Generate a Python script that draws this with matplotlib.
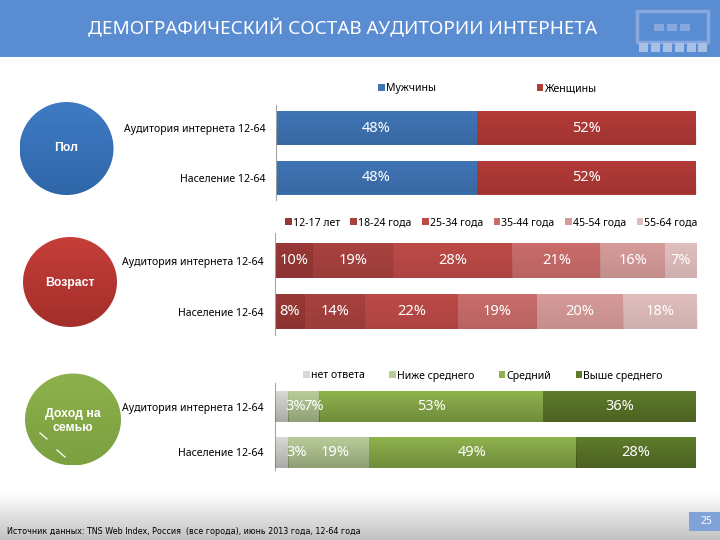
import numpy as np
import matplotlib
matplotlib.use("Agg")
import matplotlib.pyplot as plt
from matplotlib.patches import Rectangle, Ellipse, Patch

plt.rcParams['font.family'] = ['Noto Sans', 'DejaVu Sans']

# ---------- data ----------
title = "ДЕМОГРАФИЧЕСКИЙ СОСТАВ АУДИТОРИИ ИНТЕРНЕТА"
row_names = ["Аудитория интернета 12-64", "Население 12-64"]
source = "Источник данных: TNS Web Index, Россия  (все города), июнь 2013 года, 12-64 года"
page = "25"

gender_names = ["Мужчины", "Женщины"]
gender_audience = [47.8, 52.2]
gender_population = [47.8, 52.2]
gender_labels = [["48%", "52%"], ["48%", "52%"]]

age_names = ["12-17 лет", "18-24 года", "25-34 года", "35-44 года", "45-54 года", "55-64 года"]
age_audience = [9.0, 19.0, 28.2, 20.9, 15.4, 7.5]
age_population = [7.1, 14.2, 22.0, 18.7, 20.4, 17.6]
age_labels = [["10%", "19%", "28%", "21%", "16%", "7%"], ["8%", "14%", "22%", "19%", "20%", "18%"]]

income_names = ["нет ответа", "Ниже среднего", "Средний", "Выше среднего"]
income_audience = [3.1, 7.4, 53.2, 36.3]
income_population = [3.1, 19.2, 49.2, 28.5]
income_labels = [["3%", "7%", "53%", "36%"], ["3%", "19%", "49%", "28%"]]

gender_colors = ["#3F74B5", "#B23A37"]
age_colors = ["#983836", "#A8423F", "#BC4A47", "#C96C6A", "#D59B99", "#E0BEBD"]
income_colors = ["#D8D8D4", "#B8CC98", "#8FB24C", "#5F7C2A"]

fig = plt.figure(figsize=(7.2, 5.4), dpi=100, facecolor="white")
W, H = 720.0, 540.0

# ---------- background layer in pixel coordinates ----------
bg = fig.add_axes([0, 0, 1, 1], zorder=0)
bg.set_xlim(0, W); bg.set_ylim(H, 0); bg.axis("off")

bg.add_patch(Rectangle((0, 0), W, 57, fc="#5A8CD2", ec="none"))
foot = np.linspace(1, 0.76, 64)[:, None]
bg.imshow(foot, extent=(0, W, 540, 492), cmap="gray", vmin=0, vmax=1, aspect="auto", zorder=1)
bg.set_xlim(0, W); bg.set_ylim(H, 0)
bg.text(342.5, 29, title, color="white", fontsize=13.6, ha="center", va="center", zorder=5)

# header icon
ic = "#86A8DE"
bg.add_patch(Rectangle((637, 11), 71, 31, fc="none", ec=ic, lw=2.5, zorder=3))
for cx in (659, 672, 685):
    bg.add_patch(Rectangle((cx - 5, 24), 10, 7, fc=ic, ec="none", zorder=3))
for cx in (644, 656, 668, 680, 692, 703):
    bg.add_patch(Rectangle((cx - 5, 43), 9, 9, fc="#A9C0E6", ec="none", zorder=3))

# page number
bg.add_patch(Rectangle((689, 512), 31, 19, fc="#7FA3D8", ec="none", zorder=3))
bg.text(706, 522, page, color="white", fontsize=7.5, ha="center", va="center", zorder=5)
bg.text(7, 531, source, color="black", fontsize=5.8, ha="left", va="center", zorder=5,
        family=["DejaVu Sans"])


# circles with vertical gradients
def circle(cx, cy, rx, ry, top, bottom, label, ty, fs=8.8):
    c0, c1 = np.array(matplotlib.colors.to_rgb(top)), np.array(matplotlib.colors.to_rgb(bottom))
    t = np.linspace(0, 1, 128)[:, None, None]
    img = c0[None, None, :] * (1 - t) + c1[None, None, :] * t
    im = bg.imshow(img, extent=(cx - rx, cx + rx, cy + ry, cy - ry), aspect="auto", zorder=2)
    clip = Ellipse((cx, cy), 2 * rx, 2 * ry, transform=bg.transData, fc="none", ec="none")
    bg.add_patch(clip)
    im.set_clip_path(clip)
    bg.text(cx, ty, label, color="white", fontsize=fs, fontweight="bold", ha="center",
            va="center", zorder=5, linespacing=1.15, family=["Liberation Sans"])


circle(66.5, 148.5, 47, 46.5, "#3F7BC4", "#2F66A8", "Пол", 148)
circle(70, 282, 47, 45, "#C63F3A", "#A32E2A", "Возраст", 283)
circle(73, 419.5, 48, 46, "#8DB14C", "#7C9F40", "Доход на\nсемью", 421)
for x0, y0, x1, y1 in [(40, 433, 47, 439), (57, 450, 65, 457)]:
    bg.plot([x0, x1], [y0, y1], color="white", lw=0.9, zorder=4)
bg.set_xlim(0, W); bg.set_ylim(H, 0)


# ---------- stacked bars ----------
def panel(rows, labels, names, colors, left, right, top, bottom, centers, height, name_right,
          legend_y, legend_x, colspace, shade, offsets=None):
    ax = fig.add_axes([left / W, 1 - bottom / H, (right - left) / W, (bottom - top) / H], zorder=2)
    ax.patch.set_alpha(0)
    grad = np.zeros((64, 2, 4))
    grad[:, :, 3] = np.linspace(0, shade, 64)[:, None]
    step = centers[1] - centers[0]
    y_bottom = (bottom - centers[0]) / step
    y_top = (top - centers[0]) / step
    for r, (vals, labs) in enumerate(zip(rows, labels)):
        vals = np.asarray(vals, float)
        vals = vals / vals.sum() * 100
        start = 0.0
        for s, (v, lab) in enumerate(zip(vals, labs)):
            ax.barh(r, v, left=start, height=height / step, color=colors[s], zorder=2)
            ax.imshow(grad, extent=(start, start + v, r + height / step / 2, r - height / step / 2),
                      aspect="auto", zorder=3)
            dx = offsets.get((r, s), 0) if offsets else 0
            ax.annotate(lab, (start + v / 2, r), xytext=(dx * 0.72, 0), textcoords="offset points",
                        ha="center", va="center", color="white", fontsize=10.5, zorder=5)
            start += v
        bg.text(name_right, centers[r] + 1.5, row_names[r], color="black", fontsize=7.55,
                ha="right", va="center", zorder=5)
    ax.set_xlim(0, 100)
    ax.set_ylim(y_bottom, y_top)
    ax.set_xticks([]); ax.set_yticks([])
    for k in ("top", "right", "bottom"):
        ax.spines[k].set_visible(False)
    ax.spines["left"].set_color("#A6A6A6")
    ax.spines["left"].set_linewidth(0.8)
    handles = [Patch(fc=c, ec="none") for c in colors]
    fig.legend(handles, names, loc="center left",
               bbox_to_anchor=(legend_x / W, 1 - legend_y / H), ncol=len(names), frameon=False,
               fontsize=7.55, handlelength=0.65, handleheight=0.65, handletextpad=0.1,
               columnspacing=colspace, borderpad=0, borderaxespad=0)
    return ax


panel([gender_audience, gender_population], gender_labels, gender_names, gender_colors,
      276, 696, 105, 200, (128, 177.5), 34, 266, 89, 378, 9.6, 0.10)
panel([age_audience, age_population], age_labels, age_names, age_colors,
      275, 697, 233, 335, (260.5, 311.5), 35, 264, 223, 285, 0.99, 0.08)
panel([income_audience, income_population], income_labels, income_names, income_colors,
      275, 696, 383, 470, (406.5, 452.5), 31, 264, 376, 303, 2.32, 0.22,
      offsets={(0, 0): 14, (0, 1): 10, (1, 0): 15, (1, 1): 7})

fig.savefig("out.png", dpi=100)
